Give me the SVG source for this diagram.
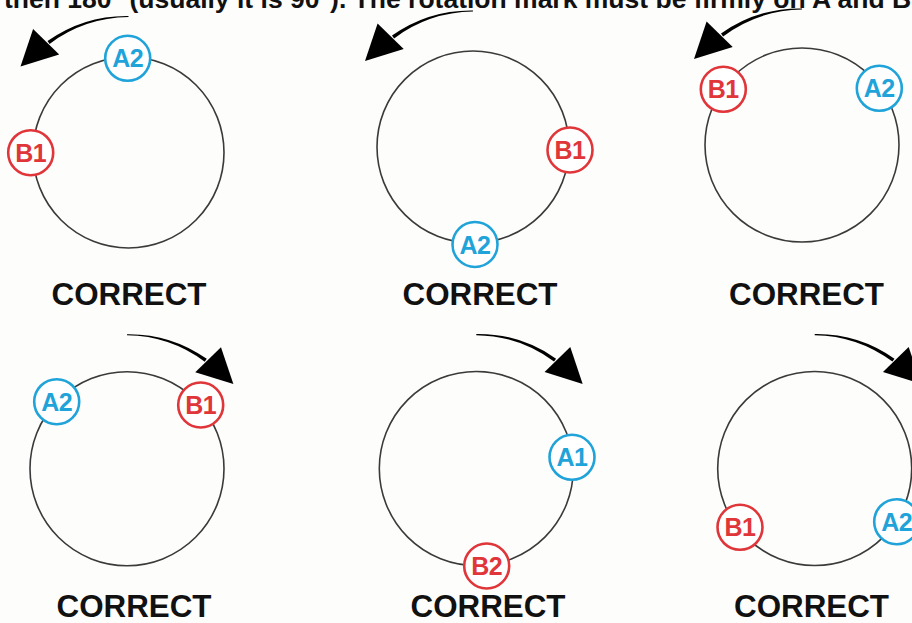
<svg xmlns="http://www.w3.org/2000/svg" width="912" height="623" viewBox="0 0 912 623">
  <style>
    .ring { fill: none; stroke: #3a3a3a; stroke-width: 1.6; }
    .mark { fill: #ffffff; stroke-width: 2.6; }
    .blue { stroke: #1fa3d9; }
    .red { stroke: #e0363a; }
    .lbl { font-family: "Liberation Sans", Arial, sans-serif; font-weight: bold; font-size: 25px; text-anchor: middle; letter-spacing: -0.5px; }
    .lblb { fill: #1fa3d9; }
    .lblr { fill: #e0363a; }
    .cap { font-family: "Liberation Sans", Arial, sans-serif; font-weight: bold; font-size: 31px; text-anchor: middle; fill: #111111; }
    .head { font-family: "Liberation Sans", Arial, sans-serif; font-weight: bold; font-size: 26.5px; fill: #111111; }
    .arr { fill: #000000; }
  </style>
  <defs>
    <g id="ccw">
      <path class="arr" d="M 0,-136.6 A 137 137 0 0 0 -81.0,-111.5 L -78.9,-108.6 A 135 135 0 0 1 0,-135.4 Z"/>
      <polygon class="arr" points="-95.4,-123.4 -69.3,-97.9 -108,-85.9"/>
    </g>
  </defs>
  <rect x="0" y="0" width="912" height="623" fill="#fdfdfb"/>

  <text class="head" x="4" y="8">then 180° (usually it is 90°). The rotation mark must be firmly on A and B</text>

  <g id="connectors">
    <use href="#ccw" transform="translate(128.5,152.5)"/>
    <use href="#ccw" transform="translate(473,147)"/>
    <use href="#ccw" transform="translate(802,145)"/>
    <use href="#ccw" transform="translate(127,468.7) scale(-0.985,0.985)"/>
    <use href="#ccw" transform="translate(476.3,468.5) scale(-0.985,0.985)"/>
    <use href="#ccw" transform="translate(814.7,468.5) scale(-0.985,0.985)"/>
  </g>

  <g id="panel1">
    <circle class="ring" cx="128.5" cy="152.5" r="95.5"/>
    <g id="p1-a2"><circle class="mark blue" cx="127.7" cy="58.3" r="22.5"/><text class="lbl lblb" x="127.7" y="67.3">A2</text></g>
    <g id="p1-b1"><circle class="mark red" cx="30.7" cy="152.7" r="22.5"/><text class="lbl lblr" x="30.7" y="161.7">B1</text></g>
    <text class="cap" x="129" y="305" textLength="155" lengthAdjust="spacingAndGlyphs">CORRECT</text>
  </g>

  <g id="panel2">
    <circle class="ring" cx="473" cy="147" r="96"/>
    <g id="p2-b1"><circle class="mark red" cx="570" cy="150" r="22.5"/><text class="lbl lblr" x="570" y="159">B1</text></g>
    <g id="p2-a2"><circle class="mark blue" cx="475" cy="244.5" r="22.5"/><text class="lbl lblb" x="475" y="253.5">A2</text></g>
    <text class="cap" x="480" y="305" textLength="155" lengthAdjust="spacingAndGlyphs">CORRECT</text>
  </g>

  <g id="panel3">
    <circle class="ring" cx="802" cy="145" r="97"/>
    <g id="p3-b1"><circle class="mark red" cx="723.3" cy="89.3" r="22.5"/><text class="lbl lblr" x="723.3" y="98.3">B1</text></g>
    <g id="p3-a2"><circle class="mark blue" cx="879.3" cy="88.3" r="22.5"/><text class="lbl lblb" x="879.3" y="97.3">A2</text></g>
    <text class="cap" x="806.5" y="305" textLength="155" lengthAdjust="spacingAndGlyphs">CORRECT</text>
  </g>

  <g id="panel4">
    <circle class="ring" cx="127" cy="468.7" r="97"/>
    <g id="p4-a2"><circle class="mark blue" cx="56.7" cy="401.7" r="22.5"/><text class="lbl lblb" x="56.7" y="410.7">A2</text></g>
    <g id="p4-b1"><circle class="mark red" cx="200.7" cy="405" r="22.5"/><text class="lbl lblr" x="200.7" y="414">B1</text></g>
    <text class="cap" x="134" y="617" textLength="155" lengthAdjust="spacingAndGlyphs">CORRECT</text>
  </g>

  <g id="panel5">
    <circle class="ring" cx="476.3" cy="468.5" r="97"/>
    <g id="p5-a1"><circle class="mark blue" cx="572" cy="457.3" r="22.5"/><text class="lbl lblb" x="572" y="466.3">A1</text></g>
    <g id="p5-b2"><circle class="mark red" cx="486.7" cy="566" r="22.5"/><text class="lbl lblr" x="486.7" y="575">B2</text></g>
    <text class="cap" x="488" y="617" textLength="155" lengthAdjust="spacingAndGlyphs">CORRECT</text>
  </g>

  <g id="panel6">
    <circle class="ring" cx="814.7" cy="468.5" r="97"/>
    <g id="p6-b1"><circle class="mark red" cx="740" cy="527.3" r="22.5"/><text class="lbl lblr" x="740" y="536.3">B1</text></g>
    <g id="p6-a2"><circle class="mark blue" cx="896.7" cy="521.7" r="22.5"/><text class="lbl lblb" x="896.7" y="530.7">A2</text></g>
    <text class="cap" x="811.5" y="617" textLength="155" lengthAdjust="spacingAndGlyphs">CORRECT</text>
  </g>
</svg>
